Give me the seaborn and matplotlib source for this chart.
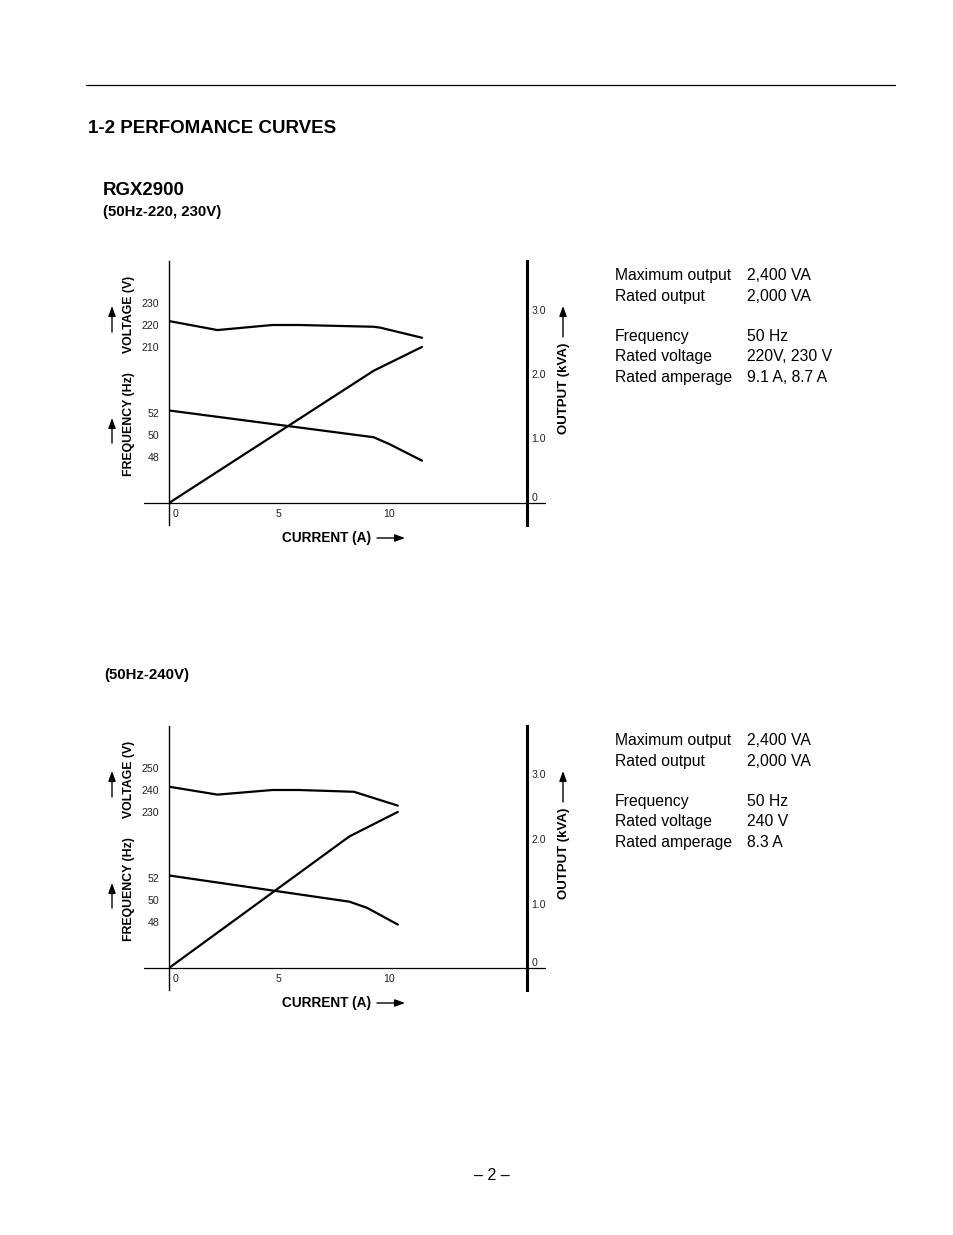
import matplotlib
matplotlib.use("Agg")
import matplotlib.pyplot as plt
import seaborn as sns
import matplotlib.transforms as mtrans
from matplotlib.lines import Line2D
from matplotlib.patches import FancyArrowPatch

# ---------------- data ----------------
# Chart 1: 50Hz-220, 230V
c1_volt_current = [0, 2.2, 4.7, 5.9, 9.3, 9.6, 11.5]
c1_voltage = [221.8, 217.7, 220.0, 220.0, 219.2, 218.8, 214.2]
c1_freq_current = [0, 9.3, 10.0, 11.5]
c1_frequency = [52.2, 49.8, 49.2, 47.7]
c1_out_current = [0, 9.3, 11.5]
c1_output = [0, 2.05, 2.42]
c1_volt_ticks = [210, 220, 230]

# Chart 2: 50Hz-240V
c2_volt_current = [0, 2.2, 4.7, 5.9, 8.4, 10.4]
c2_voltage = [241.5, 237.9, 240.0, 240.0, 239.2, 232.9]
c2_freq_current = [0, 8.2, 9.0, 10.4]
c2_frequency = [52.2, 49.85, 49.3, 47.8]
c2_out_current = [0, 8.2, 10.4]
c2_output = [0, 2.04, 2.42]
c2_volt_ticks = [230, 240, 250]

freq_ticks = [48, 50, 52]
out_ticks = [0, 1.0, 2.0, 3.0]
out_tick_labels = ["0", "1.0", "2.0", "3.0"]
cur_ticks = [0, 5, 10]
cur_tick_labels = ["0", "5", "10"]

c1_info_labels = ["Maximum output", "Rated output", "Frequency", "Rated voltage", "Rated amperage"]
c1_info_values = ["2,400 VA", "2,000 VA", "50 Hz", "220V, 230 V", "9.1 A, 8.7 A"]
c2_info_labels = ["Maximum output", "Rated output", "Frequency", "Rated voltage", "Rated amperage"]
c2_info_values = ["2,400 VA", "2,000 VA", "50 Hz", "240 V", "8.3 A"]

# ---------------- style ----------------
sns.set_theme(style="white")
plt.rcParams["font.family"] = ["Liberation Sans", "DejaVu Sans"]

W, H = 954, 1235
fig = plt.figure(figsize=(W / 100, H / 100), dpi=100)
fig.patch.set_facecolor("white")


def fx(x):
    return x / W


def fy(y):
    return 1 - y / H


def T(x, y, s, **kw):
    kw.setdefault("color", "black")
    return fig.text(fx(x), fy(y), s, **kw)


def arrow(p1, p2):
    fig.add_artist(FancyArrowPatch((fx(p1[0]), fy(p1[1])), (fx(p2[0]), fy(p2[1])),
                                   transform=fig.transFigure,
                                   arrowstyle="-|>,head_length=6,head_width=2.2",
                                   mutation_scale=1, lw=1.0, color="black",
                                   shrinkA=0, shrinkB=0))


X_LEFT, X_RIGHT = 169, 527
X_MAX = (X_RIGHT - X_LEFT) / 22.0
AX_H = 264
TICK_FS = 7.6


def draw_chart(top, vI, vV, fI, fF, oI, oO, v_ticks):
    ax = fig.add_axes([fx(X_LEFT), fy(top + AX_H), (X_RIGHT - X_LEFT) / W, AX_H / H])
    ax_f = ax.twinx()
    ax_v = ax.twinx()
    ax.set_facecolor("none")

    sns.lineplot(x=oI, y=oO, ax=ax, color="black", linewidth=1.6)
    sns.lineplot(x=fI, y=fF, ax=ax_f, color="black", linewidth=1.6)
    sns.lineplot(x=vI, y=vV, ax=ax_v, color="black", linewidth=1.6)

    for a in (ax, ax_f, ax_v):
        a.set_xlim(0, X_MAX)
        a.set_xlabel("")
        a.set_ylabel("")
        a.grid(False)

    # y scales (pixel-matched)
    base = top + 242  # pixel y of output 0
    out_px = 64.5
    ax.set_ylim(-(top + AX_H - base) / out_px, (base - top) / out_px)
    v_mid = v_ticks[1]
    v_px = 2.2
    ax_v.set_ylim(v_mid - 200 / v_px, v_mid + 64 / v_px)
    f_px = 11.15
    ax_f.set_ylim(50 - 90 / f_px, 50 + 174 / f_px)

    for a in (ax_f, ax_v):
        for s in a.spines.values():
            s.set_visible(False)
    ax.spines["top"].set_visible(False)
    ax.spines["bottom"].set_visible(False)
    ax.spines["bottom"].set_position(("data", 0))
    ax.spines["left"].set_color("black")
    ax.spines["left"].set_linewidth(1.0)
    ax.spines["right"].set_color("black")
    ax.spines["right"].set_linewidth(2.2)

    # output ticks on right
    ax.yaxis.tick_right()
    ax.set_yticks(out_ticks)
    ax.set_yticklabels(out_tick_labels)
    ax.tick_params(axis="y", length=0, pad=3, labelsize=TICK_FS, labelcolor="#222222")
    ax.get_yticklabels()[0].set_va("bottom")

    # current ticks
    ax.xaxis.tick_bottom()
    ax.set_xticks(cur_ticks)
    ax.set_xticklabels(cur_tick_labels)
    ax.tick_params(axis="x", length=0, pad=4, labelsize=TICK_FS, labelcolor="#222222")
    lab0 = ax.get_xticklabels()[0]
    lab0.set_ha("left")
    lab0.set_transform(lab0.get_transform() +
                       mtrans.ScaledTranslation(2.5 / 72, 0, fig.dpi_scale_trans))

    # left scales
    ax_f.yaxis.tick_left()
    ax_f.set_yticks(freq_ticks)
    ax_f.tick_params(axis="y", length=0, pad=7, labelsize=TICK_FS, labelcolor="#222222")
    ax_v.yaxis.tick_left()
    ax_v.set_yticks(v_ticks)
    ax_v.tick_params(axis="y", length=0, pad=7, labelsize=TICK_FS, labelcolor="#222222")

    # baseline extending past the axes
    ax.axhline(0, xmin=-0.07, xmax=1.05, color="black", lw=0.9, clip_on=False)

    # axis titles and arrows
    T(129, top + 53, "VOLTAGE (V)", rotation=90, ha="center", va="center",
      fontsize=8.8, fontweight="bold")
    arrow((112, top + 71), (112, top + 45))
    T(129, top + 163, "FREQUENCY (Hz)", rotation=90, ha="center", va="center",
      fontsize=8.8, fontweight="bold")
    arrow((112, top + 182), (112, top + 157))
    T(327, top + 277, "CURRENT (A)", ha="center", va="center", fontsize=9.8,
      fontweight="bold")
    arrow((377, top + 277), (405, top + 277))
    T(564, top + 127, "OUTPUT (kVA)", rotation=90, ha="center", va="center",
      fontsize=9.5, fontweight="bold")
    arrow((563, top + 76), (563, top + 45))


def draw_info(top, labels, values):
    rows = [19, 40, 80, 100, 121]  # baselines relative to chart top
    for r, lab, val in zip(rows, labels, values):
        T(615, top + r, lab, ha="left", va="baseline", fontsize=11.3)
        T(747, top + r, val, ha="left", va="baseline", fontsize=11.3)


# header
fig.add_artist(Line2D([fx(86), fx(895)], [fy(85), fy(85)], color="black", lw=0.9))
T(88, 133, "1-2 PERFOMANCE CURVES", ha="left", va="baseline", fontsize=13.5, fontweight="bold")
T(103, 195, "RGX2900", ha="left", va="baseline", fontsize=13.4, fontweight="bold",
  family=["Liberation Sans Narrow", "Liberation Sans"])
T(103, 216, "(50Hz-220, 230V)", ha="left", va="baseline", fontsize=10.8, fontweight="bold")
T(104, 679, "(50Hz-240V)", ha="left", va="baseline", fontsize=10.8, fontweight="bold")

draw_chart(261, c1_volt_current, c1_voltage, c1_freq_current, c1_frequency,
           c1_out_current, c1_output, c1_volt_ticks)
draw_info(261, c1_info_labels, c1_info_values)

draw_chart(726, c2_volt_current, c2_voltage, c2_freq_current, c2_frequency,
           c2_out_current, c2_output, c2_volt_ticks)
draw_info(726, c2_info_labels, c2_info_values)

T(492, 1180, "\u2013 2 \u2013", ha="center", va="baseline", fontsize=11.5)

fig.savefig("out.png", dpi=100, facecolor="white")
